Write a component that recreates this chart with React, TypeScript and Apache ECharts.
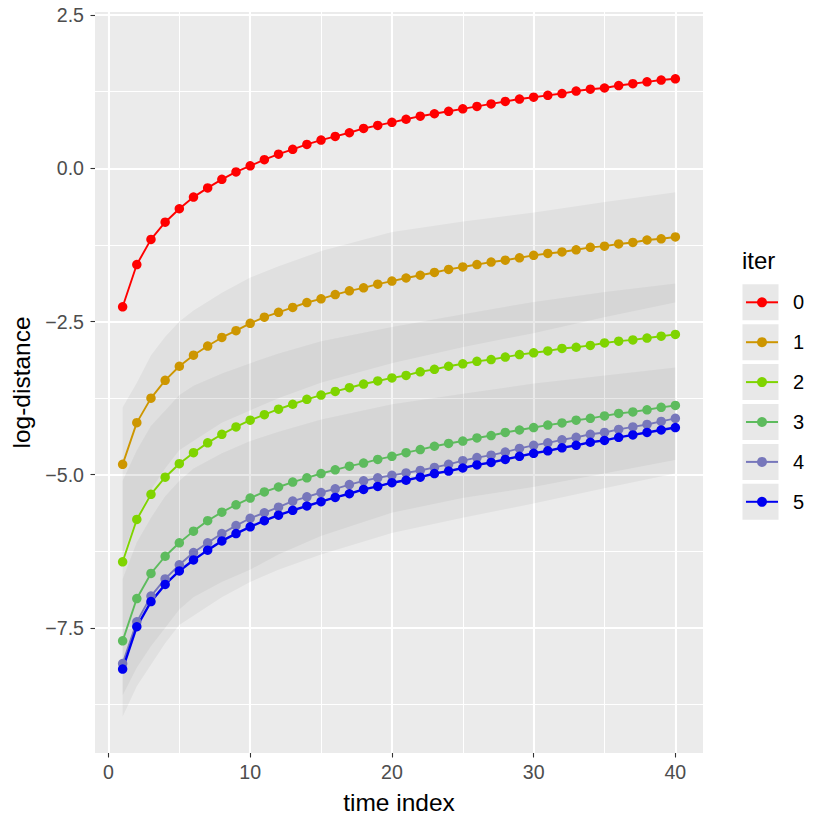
import React, { useEffect, useRef } from "react";
import * as echarts from "echarts";

const timeIndex = [1, 2, 3, 4, 5, 6, 7, 8, 9, 10, 11, 12, 13, 14, 15, 16, 17, 18, 19, 20,
  21, 22, 23, 24, 25, 26, 27, 28, 29, 30, 31, 32, 33, 34, 35, 36, 37, 38, 39, 40];

const iterNames = ["0", "1", "2", "3", "4", "5"];
const iterColors = ["#FF0000", "#CD9600", "#7FD400", "#5DBB5D", "#7777BB", "#0000F0"];

const iter0 = [-2.26, -1.57, -1.16, -0.88, -0.66, -0.47, -0.32, -0.18, -0.06, 0.04,
  0.14, 0.23, 0.31, 0.39, 0.46, 0.52, 0.58, 0.65, 0.70, 0.75,
  0.80, 0.85, 0.89, 0.93, 0.97, 1.01, 1.05, 1.09, 1.13, 1.16,
  1.19, 1.22, 1.26, 1.29, 1.31, 1.35, 1.38, 1.41, 1.44, 1.46];
const iter1 = [-4.83, -4.15, -3.75, -3.46, -3.23, -3.05, -2.90, -2.76, -2.65, -2.53,
  -2.43, -2.35, -2.27, -2.19, -2.13, -2.06, -2.00, -1.95, -1.89, -1.84,
  -1.79, -1.745, -1.70, -1.65, -1.61, -1.57, -1.53, -1.50, -1.46, -1.42,
  -1.39, -1.365, -1.33, -1.29, -1.27, -1.235, -1.21, -1.17, -1.15, -1.12];
const iter2 = [-6.42, -5.73, -5.32, -5.04, -4.82, -4.64, -4.48, -4.34, -4.22, -4.11,
  -4.02, -3.93, -3.85, -3.77, -3.70, -3.64, -3.58, -3.52, -3.47, -3.42,
  -3.38, -3.32, -3.28, -3.23, -3.19, -3.15, -3.12, -3.08, -3.04, -3.01,
  -2.98, -2.94, -2.92, -2.89, -2.85, -2.82, -2.80, -2.77, -2.74, -2.71];
const iter3 = [-7.71, -7.02, -6.61, -6.33, -6.11, -5.92, -5.75, -5.61, -5.49, -5.38,
  -5.28, -5.20, -5.12, -5.05, -4.98, -4.92, -4.86, -4.81, -4.75, -4.70,
  -4.64, -4.59, -4.535, -4.49, -4.45, -4.40, -4.36, -4.31, -4.27, -4.23,
  -4.19, -4.155, -4.11, -4.08, -4.04, -4.00, -3.975, -3.94, -3.90, -3.87];
const iter4 = [-8.08, -7.40, -6.98, -6.70, -6.47, -6.27, -6.11, -5.96, -5.83, -5.71,
  -5.62, -5.53, -5.43, -5.36, -5.29, -5.23, -5.16, -5.10, -5.05, -5.01,
  -4.97, -4.93, -4.88, -4.83, -4.77, -4.72, -4.68, -4.63, -4.57, -4.52,
  -4.48, -4.43, -4.39, -4.34, -4.31, -4.26, -4.22, -4.18, -4.13, -4.08];
const iter5 = [-8.17, -7.48, -7.07, -6.79, -6.57, -6.39, -6.23, -6.08, -5.96, -5.85,
  -5.75, -5.66, -5.58, -5.51, -5.44, -5.37, -5.31, -5.24, -5.19, -5.13,
  -5.09, -5.04, -4.98, -4.94, -4.89, -4.84, -4.80, -4.75, -4.70, -4.65,
  -4.61, -4.56, -4.52, -4.47, -4.44, -4.39, -4.35, -4.31, -4.27, -4.23];
const iterValues = [iter0, iter1, iter2, iter3, iter4, iter5];

// ribbon edges, read at a subset of time indices
const bandX = [1, 2, 3, 4, 5, 6, 8, 10, 12, 15, 20, 25, 30, 35, 40];
const bandAHi = [-3.9, -3.5, -3.05, -2.75, -2.5, -2.32, -2.03, -1.78, -1.6, -1.35, -1.04, -0.87, -0.72, -0.55, -0.39];
const bandALo = [-6.3, -5.7, -5.25, -4.9, -4.6, -4.45, -4.15, -3.95, -3.75, -3.5, -3.18, -2.92, -2.69, -2.43, -2.19];
const bandBHi = [-5.1, -4.6, -4.2, -3.95, -3.7, -3.55, -3.35, -3.18, -3.02, -2.82, -2.59, -2.38, -2.18, -2.02, -1.88];
const bandBLo = [-8.6, -8.15, -7.8, -7.5, -7.2, -7.0, -6.75, -6.55, -6.3, -6.0, -5.62, -5.38, -5.2, -4.98, -4.76];
const bandCHi = [-6.7, -6.1, -5.7, -5.35, -5.1, -4.9, -4.65, -4.45, -4.3, -4.1, -3.85, -3.68, -3.51, -3.38, -3.25];
const bandCLo = [-8.95, -8.45, -8.1, -7.75, -7.45, -7.3, -7.0, -6.75, -6.55, -6.3, -5.95, -5.7, -5.47, -5.22, -4.98];
const bands = [[bandAHi, bandALo], [bandBHi, bandBLo], [bandCHi, bandCLo]];

const xTicks = [0, 10, 20, 30, 40];
const yTicks = [-7.5, -5, -2.5, 0, 2.5];

const FONT = "'Liberation Sans', Arial, Helvetica, sans-serif";

export default function App() {
  const ref = useRef<HTMLDivElement>(null);
  useEffect(() => {
    if (!ref.current) return;
    const chart = echarts.init(ref.current, undefined, { renderer: "svg" });

    const bandSeries = bands.map(([hi, lo], b) => ({
      type: "custom",
      name: "band" + b,
      silent: true,
      clip: true,
      z: 1,
      data: [[bandX[0], hi[0]]],
      renderItem: (params: any, api: any) => {
        if (params.dataIndex !== 0) return null;
        const pts: number[][] = [];
        for (let i = 0; i < bandX.length; i++) pts.push(api.coord([bandX[i], hi[i]]));
        for (let i = bandX.length - 1; i >= 0; i--) pts.push(api.coord([bandX[i], lo[i]]));
        return {
          type: "polygon",
          shape: { points: pts },
          style: { fill: "rgba(0,0,0,0.042)", stroke: "none" },
        };
      },
    }));

    const lineSeries = iterValues.map((vals, k) => ({
      type: "line",
      name: iterNames[k],
      z: 3,
      data: timeIndex.map((t, i) => [t, vals[i]]),
      symbol: "circle",
      symbolSize: 9.5,
      showSymbol: true,
      lineStyle: { color: iterColors[k], width: k === 5 ? 2.4 : 1.9 },
      itemStyle: { color: iterColors[k] },
      emphasis: { disabled: true },
    }));

    const keyRects = iterNames.map((_, k) => ({
      type: "rect",
      shape: { x: 742.5, y: 302.3 + k * 39.9 - 18, width: 36, height: 36 },
      style: { fill: "#E8E8E8" },
      z: 0,
    }));

    chart.setOption({
      animation: false,
      grid: {
        left: 95,
        right: 127,
        top: 12,
        bottom: 77,
        show: true,
        backgroundColor: "#EBEBEB",
        borderWidth: 0,
        containLabel: false,
      },
      xAxis: {
        type: "value",
        min: -0.95,
        max: 41.95,
        minInterval: 10,
        maxInterval: 10,
        axisLine: { show: false, onZero: false },
        axisTick: { show: true, length: 4.5, lineStyle: { color: "#333333", width: 1.1 }, customValues: xTicks },
        axisLabel: {
          customValues: xTicks,
          color: "#4D4D4D",
          fontSize: 19.6,
          margin: 9,
          fontFamily: FONT,
          formatter: (v: number) => (xTicks.indexOf(v) >= 0 ? String(v) : ""),
        },
        splitLine: { show: true, lineStyle: { color: "#FFFFFF", width: 2.1 } },
        minorTick: { show: false, splitNumber: 2 },
        minorSplitLine: { show: true, lineStyle: { color: "#FFFFFF", width: 1.05 } },
        name: "time index",
        nameLocation: "middle",
        nameGap: 37,
        nameTextStyle: { fontSize: 24.5, color: "#000000", fontFamily: FONT },
      },
      yAxis: {
        type: "value",
        min: -9.54,
        max: 2.55,
        minInterval: 2.5,
        maxInterval: 2.5,
        axisLine: { show: false, onZero: false },
        axisTick: { show: true, length: 4.5, lineStyle: { color: "#333333", width: 1.1 }, customValues: yTicks },
        axisLabel: {
          customValues: yTicks,
          color: "#4D4D4D",
          fontSize: 19.6,
          margin: 11,
          fontFamily: FONT,
          formatter: (v: number) =>
            yTicks.indexOf(v) >= 0 ? v.toFixed(1).replace("-", "\u2212") : "",
        },
        splitLine: { show: true, lineStyle: { color: "#FFFFFF", width: 2.1 } },
        minorTick: { show: false, splitNumber: 2 },
        minorSplitLine: { show: true, lineStyle: { color: "#FFFFFF", width: 1.05 } },
        name: "log-distance",
        nameLocation: "middle",
        nameRotate: 90,
        nameGap: 58,
        nameTextStyle: { fontSize: 24.5, color: "#000000", fontFamily: FONT },
      },
      legend: {
        orient: "vertical",
        left: 745,
        top: 292.3,
        padding: 0,
        itemWidth: 32,
        itemHeight: 12.5,
        itemGap: 19.9,
        data: iterNames,
        selectedMode: false,
        textStyle: { fontSize: 20, lineHeight: 20, color: "#000000", fontFamily: FONT, padding: [0, 0, 0, 10] },
      },
      graphic: [
        ...keyRects,
        {
          type: "text",
          left: 742,
          top: 248,
          style: { text: "iter", fontSize: 24, fill: "#000000", fontFamily: FONT },
          z: 1,
        },
      ],
      series: [...bandSeries, ...lineSeries],
    });

    return () => chart.dispose();
  }, []);

  return (
    <div
      ref={ref}
      style={{ position: "fixed", left: 0, top: 0, width: 830, height: 830, background: "#FFFFFF" }}
    />
  );
}
